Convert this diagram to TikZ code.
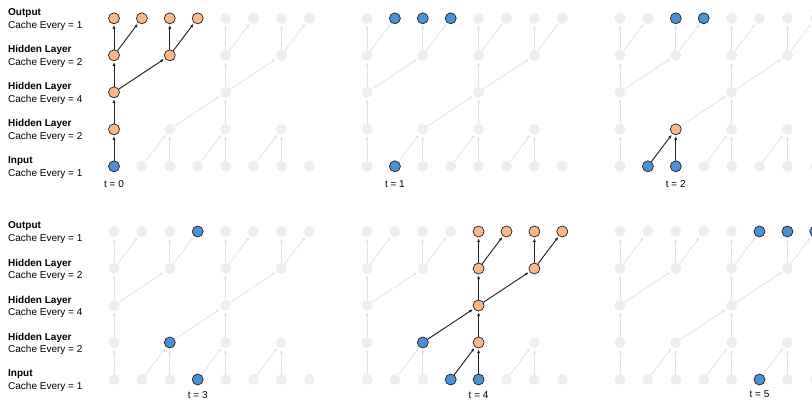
\documentclass[tikz,border=0pt]{standalone}
\usepackage{fontspec}
\setmainfont{Liberation Sans}
\usetikzlibrary{arrows.meta}
\definecolor{ink}{HTML}{222222}
\definecolor{idle}{HTML}{EEEEEE}
\definecolor{idleline}{HTML}{E3E3E3}
\definecolor{fresh}{HTML}{F9B88B}
\definecolor{cached}{HTML}{4A92D4}
\tikzset{>={Latex[length=3.6pt,width=3pt]},
  every node/.style={font=\fontsize{10}{12.7}\selectfont},
  dot/.style={circle,fill=idle,minimum size=11pt,inner sep=0pt},
  newdot/.style={dot,fill=fresh,draw=ink,line width=.7pt},
  cachedot/.style={dot,fill=cached,draw=ink,line width=.7pt},
  link/.style={->,draw=idleline,line width=.8pt,shorten >=1.2pt},
  hotlink/.style={->,draw=ink,line width=.9pt,shorten >=1.2pt},
  layerlabel/.style={anchor=west,align=left,inner sep=0pt},
  steplabel/.style={inner sep=0pt}}
% one time step: #1 name, #2 left x, #3 top y, #4 t
\newcommand{\drawpanel}[4]{%
  \foreach \l/\cols in {0/{0,...,7},1/{0,2,4,6},2/{0,4},3/{0,2,4,6},4/{0,...,7}}
    \foreach \c in \cols
      \node[dot] (#1-\l-\c) at ({#2+27.9*\c},{#3+166.3-37*\l}) {};
  \foreach \a/\b in {0-0/1-0,0-2/1-2,0-4/1-4,0-6/1-6,0-1/1-2,0-3/1-4,0-5/1-6,
      1-0/2-0,1-4/2-4,1-2/2-4,
      2-0/3-0,2-4/3-4,2-0/3-2,2-4/3-6,
      3-0/4-0,3-2/4-2,3-4/4-4,3-6/4-6,3-0/4-1,3-2/4-3,3-4/4-5,3-6/4-7}
    \draw[link] (#1-\a) -- (#1-\b);
  \node[steplabel] (#1-t) at ({#2+27.9*#4},{min(#3+184.3,394.6)}) {t = #4};
}

\begin{document}
\begin{tikzpicture}[x=1pt,y=-1pt]
\useasboundingbox (0,0) rectangle (812,400);
\clip (0,0) rectangle (812,400);
% layer names
\foreach \r/\y in {1/0,2/213.2}
  \foreach \l/\name/\k in {4/Output/1,3/Hidden Layer/2,2/Hidden Layer/4,1/Hidden Layer/2,0/Input/1}
    \node[layerlabel] (lab\r-\l) at (8,{\y+167.6-37*\l}) {\textbf{\name}\\Cache Every = \k};

\drawpanel{a}{114}{0}{0}
\drawpanel{b}{367}{0}{1}
\drawpanel{c}{620}{0}{2}
\drawpanel{d}{114}{213.2}{3}
\drawpanel{e}{367}{213.2}{4}
\drawpanel{f}{620}{213.2}{5}

% t = 0
\foreach \a/\b in {0-0/1-0,1-0/2-0,2-0/3-0,2-0/3-2,3-0/4-0,3-0/4-1,3-2/4-2,3-2/4-3}
  \draw[hotlink] (a-\a) -- (a-\b);
\foreach \n in {1-0,2-0,3-0,3-2,4-0,4-1,4-2,4-3}
  \node[newdot] (a-\n-on) at (a-\n) {};
\node[cachedot] (a-0-0-on) at (a-0-0) {};

% t = 1
\foreach \n in {0-1,4-1,4-2,4-3}
  \node[cachedot] (b-\n-on) at (b-\n) {};

% t = 2
\foreach \a/\b in {0-1/1-2,0-2/1-2}
  \draw[hotlink] (c-\a) -- (c-\b);
\foreach \n in {0-1,0-2,4-2,4-3}
  \node[cachedot] (c-\n-on) at (c-\n) {};
\node[newdot] (c-1-2-on) at (c-1-2) {};

% t = 3
\foreach \n in {0-3,1-2,4-3}
  \node[cachedot] (d-\n-on) at (d-\n) {};

% t = 4
\foreach \a/\b in {0-3/1-4,0-4/1-4,1-2/2-4,1-4/2-4,2-4/3-4,2-4/3-6,3-4/4-4,3-4/4-5,3-6/4-6,3-6/4-7}
  \draw[hotlink] (e-\a) -- (e-\b);
\foreach \n in {0-3,0-4,1-2}
  \node[cachedot] (e-\n-on) at (e-\n) {};
\foreach \n in {1-4,2-4,3-4,3-6,4-4,4-5,4-6,4-7}
  \node[newdot] (e-\n-on) at (e-\n) {};

% t = 5
\foreach \n in {0-5,4-5,4-6,4-7}
  \node[cachedot] (f-\n-on) at (f-\n) {};
\end{tikzpicture}
\end{document}
